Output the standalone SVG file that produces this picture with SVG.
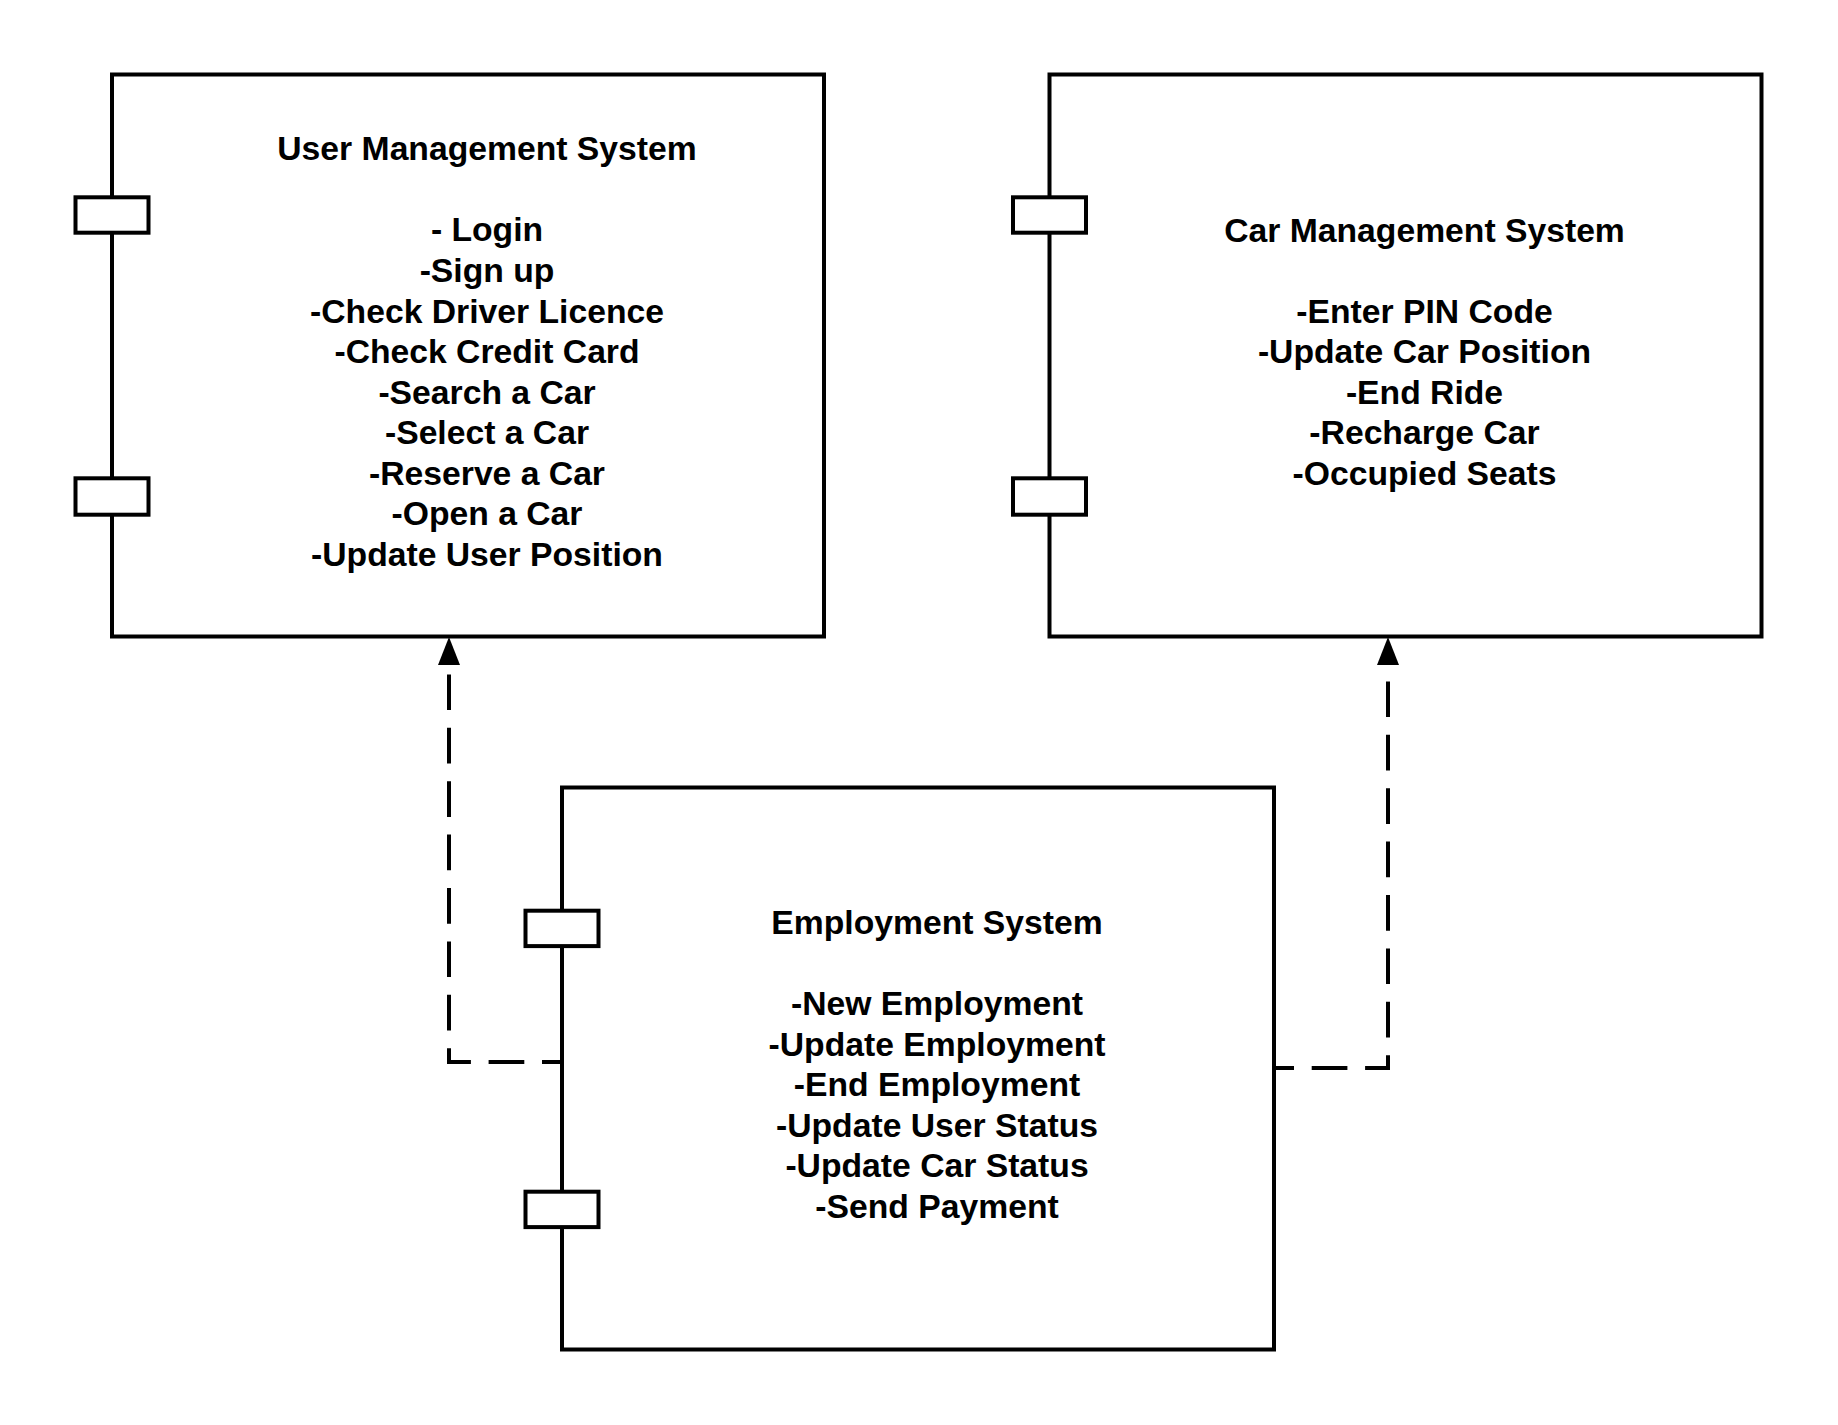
<svg xmlns="http://www.w3.org/2000/svg" width="1838" height="1425" viewBox="0 0 1838 1425">
<defs>
<style>
.box{fill:#fff;stroke:#000;stroke-width:4}
.port{fill:#fff;stroke:#000;stroke-width:4}
.dep{fill:none;stroke:#000;stroke-width:4;stroke-dasharray:35.7 17.7;stroke-dashoffset:17.7}
.t{font-family:"Liberation Sans",Arial,sans-serif;font-weight:bold;font-size:33.7px;fill:#000;text-anchor:middle}
</style>
<marker id="arr" viewBox="0 0 22 28" refX="11" refY="0" markerWidth="22" markerHeight="28" markerUnits="userSpaceOnUse" orient="auto-start-reverse">
<path d="M11,0 L22,28 L0,28 Z" fill="#000"/>
</marker>
</defs>
<rect width="1838" height="1425" fill="#fff"/>
<g id="connectors">
<path class="dep" d="M560,1062 H449 V672"/>
<path d="M449,637 L460,665 L438,665 Z" fill="#000"/>
<path class="dep" d="M1276,1068 H1388 V672"/>
<path d="M1388,637 L1399,665 L1377,665 Z" fill="#000"/>
</g>
<g id="user-management">
<rect class="box" x="112" y="74.5" width="712" height="562"/>
<rect class="port" x="75.5" y="197.3" width="73" height="35.4"/>
<rect class="port" x="75.5" y="478.3" width="73" height="36.4"/>
<text class="t" x="487" y="160.3">User Management System</text>
<text class="t" x="487" y="241.4">- Login</text>
<text class="t" x="487" y="282">-Sign up</text>
<text class="t" x="487" y="322.6">-Check Driver Licence</text>
<text class="t" x="487" y="363.2">-Check Credit Card</text>
<text class="t" x="487" y="403.7">-Search a Car</text>
<text class="t" x="487" y="444.3">-Select a Car</text>
<text class="t" x="487" y="484.8">-Reserve a Car</text>
<text class="t" x="487" y="525.4">-Open a Car</text>
<text class="t" x="487" y="566">-Update User Position</text>
</g>
<g id="car-management">
<rect class="box" x="1049.5" y="74.5" width="712" height="562"/>
<rect class="port" x="1013" y="197.3" width="73" height="35.4"/>
<rect class="port" x="1013" y="478.3" width="73" height="36.4"/>
<text class="t" x="1424.5" y="241.5">Car Management System</text>
<text class="t" x="1424.5" y="322.6">-Enter PIN Code</text>
<text class="t" x="1424.5" y="363.2">-Update Car Position</text>
<text class="t" x="1424.5" y="403.8">-End Ride</text>
<text class="t" x="1424.5" y="444.4">-Recharge Car</text>
<text class="t" x="1424.5" y="484.9">-Occupied Seats</text>
</g>
<g id="employment">
<rect class="box" x="562" y="787.5" width="712" height="562"/>
<rect class="port" x="525.5" y="910.7" width="73" height="35.4"/>
<rect class="port" x="525.5" y="1191.7" width="73" height="35.4"/>
<text class="t" x="937" y="934">Employment System</text>
<text class="t" x="937" y="1015.1">-New Employment</text>
<text class="t" x="937" y="1055.7">-Update Employment</text>
<text class="t" x="937" y="1096.3">-End Employment</text>
<text class="t" x="937" y="1136.9">-Update User Status</text>
<text class="t" x="937" y="1177.4">-Update Car Status</text>
<text class="t" x="937" y="1218">-Send Payment</text>
</g>
</svg>
